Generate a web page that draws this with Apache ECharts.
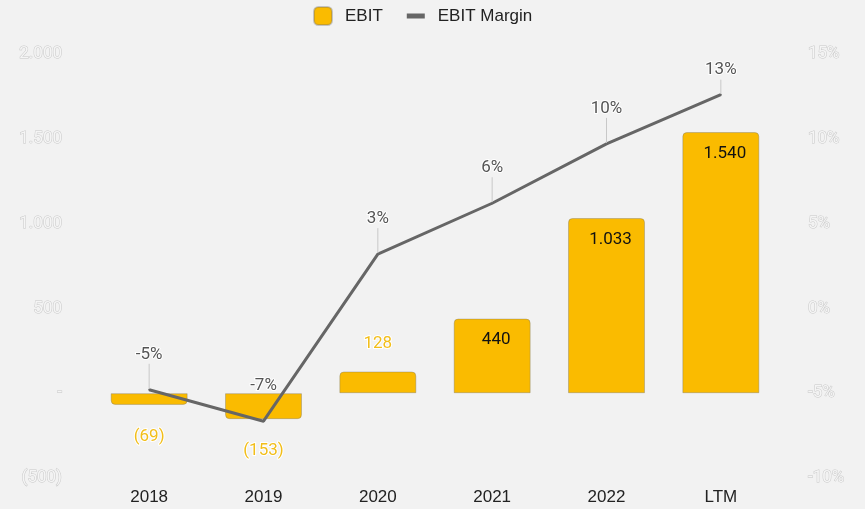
<!DOCTYPE html>
<html>
<head>
<meta charset="utf-8">
<script src="https://cdn.jsdelivr.net/npm/echarts@6/dist/echarts.min.js"></script>
<style>
html,body{margin:0;padding:0;background:#f2f2f2;}
#chart{width:865px;height:509px;}
</style>
</head>
<body>
<div id="chart"></div>
<script>
const categories = ['2018', '2019', '2020', '2021', '2022', 'LTM'];
const ebit = [-69, -153, 128, 440, 1033, 1540];
const ebitMargin = [-4.8, -6.65, 3.2, 6.2, 9.7, 12.6];
const leftTicks = [-500, 2000, 500];
const rightTicks = [-10, 15, 5];

function fmtNum(v) {
  if (v === 0) return '-';
  const s = Math.abs(v).toString().replace(/\B(?=(\d{3})+(?!\d))/g, '.');
  return v < 0 ? '(' + s + ')' : s;
}

const BAR = '#FABB00';
const chart = echarts.init(document.getElementById('chart'), null, {renderer: 'canvas'});

const barData = ebit.map(function (v) {
  const inside = v > 300;
  return {
    value: v,
    itemStyle: { borderRadius: v < 0 ? [0, 0, 4, 4] : [4, 4, 0, 0] },
    label: inside ? {
      position: 'insideTop', distance: 13, offset: [4, 0], color: '#111',
      textBorderWidth: 0
    } : (v < 0 ? {
      position: 'bottom', distance: 23, color: '#F2BE1A',
      textBorderColor: '#fff', textBorderWidth: 2
    } : {
      position: 'top', distance: 19, color: '#F2BE1A',
      textBorderColor: '#fff', textBorderWidth: 2
    })
  };
});

const lineData = ebitMargin.map(function (v, i) {
  return i === 1 ? { value: v, labelLine: { show: false } } : { value: v };
});

chart.setOption({
  backgroundColor: '#f2f2f2',
  animation: false,
  legend: {
    top: 1,
    left: 308,
    itemWidth: 18,
    itemHeight: 18,
    itemGap: 24,
    textStyle: { fontFamily: 'Liberation Sans', fontSize: 17, color: '#222', padding: [0, 0, 0, 8] },
    data: [
      { name: 'EBIT', icon: 'roundRect', itemStyle: { color: BAR } },
      { name: 'EBIT Margin', icon: 'path://M0,0h18v5h-18z', itemStyle: { color: '#666' } }
    ]
  },
  grid: { left: 92, right: 87, top: 54, bottom: 31 },
  xAxis: {
    type: 'category',
    data: categories,
    axisLine: { show: false },
    axisTick: { show: false },
    axisLabel: { fontFamily: 'Liberation Sans', fontSize: 17, color: '#222', margin: 11 }
  },
  yAxis: [
    {
      type: 'value',
      min: leftTicks[0], max: leftTicks[1], interval: leftTicks[2],
      splitLine: { show: false },
      axisLine: { show: false },
      axisTick: { show: false },
      axisLabel: {
        fontFamily: 'Roboto', fontSize: 17, margin: 30,
        color: '#f5f5f5', textBorderColor: '#c8c8c8', textBorderWidth: 1,
        formatter: fmtNum
      }
    },
    {
      type: 'value',
      min: rightTicks[0], max: rightTicks[1], interval: rightTicks[2],
      splitLine: { show: false },
      axisLine: { show: false },
      axisTick: { show: false },
      axisLabel: {
        fontFamily: 'Roboto', fontSize: 17, margin: 30,
        color: '#f5f5f5', textBorderColor: '#c8c8c8', textBorderWidth: 1,
        formatter: function (v) { return v + '%'; }
      }
    }
  ],
  series: [
    {
      name: 'EBIT',
      type: 'bar',
      yAxisIndex: 0,
      barWidth: 77,
      itemStyle: { color: BAR, borderColor: 'rgba(110,110,110,0.35)', borderWidth: 1 },
      label: {
        show: true, fontFamily: 'Roboto', fontSize: 17,
        formatter: function (p) { return fmtNum(p.value); }
      },
      data: barData,
      z: 2
    },
    {
      name: 'EBIT Margin',
      type: 'line',
      yAxisIndex: 1,
      data: lineData,
      symbol: 'circle',
      symbolSize: 2,
      showSymbol: true,
      itemStyle: { color: '#666' },
      lineStyle: { color: '#666', width: 3 },
      label: {
        show: true, position: 'top', distance: 5,
        fontFamily: 'Roboto', fontSize: 17, color: '#555',
        textBorderColor: '#fff', textBorderWidth: 2,
        formatter: function (p) { return Math.round(p.value) + '%'; }
      },
      labelLayout: function (p) {
        return { dy: p.dataIndex === 5 ? -10 : -21 };
      },
      labelLine: { show: true, lineStyle: { color: '#c8c8c8', width: 1 } },
      z: 3
    }
  ]
});
</script>
</body>
</html>
